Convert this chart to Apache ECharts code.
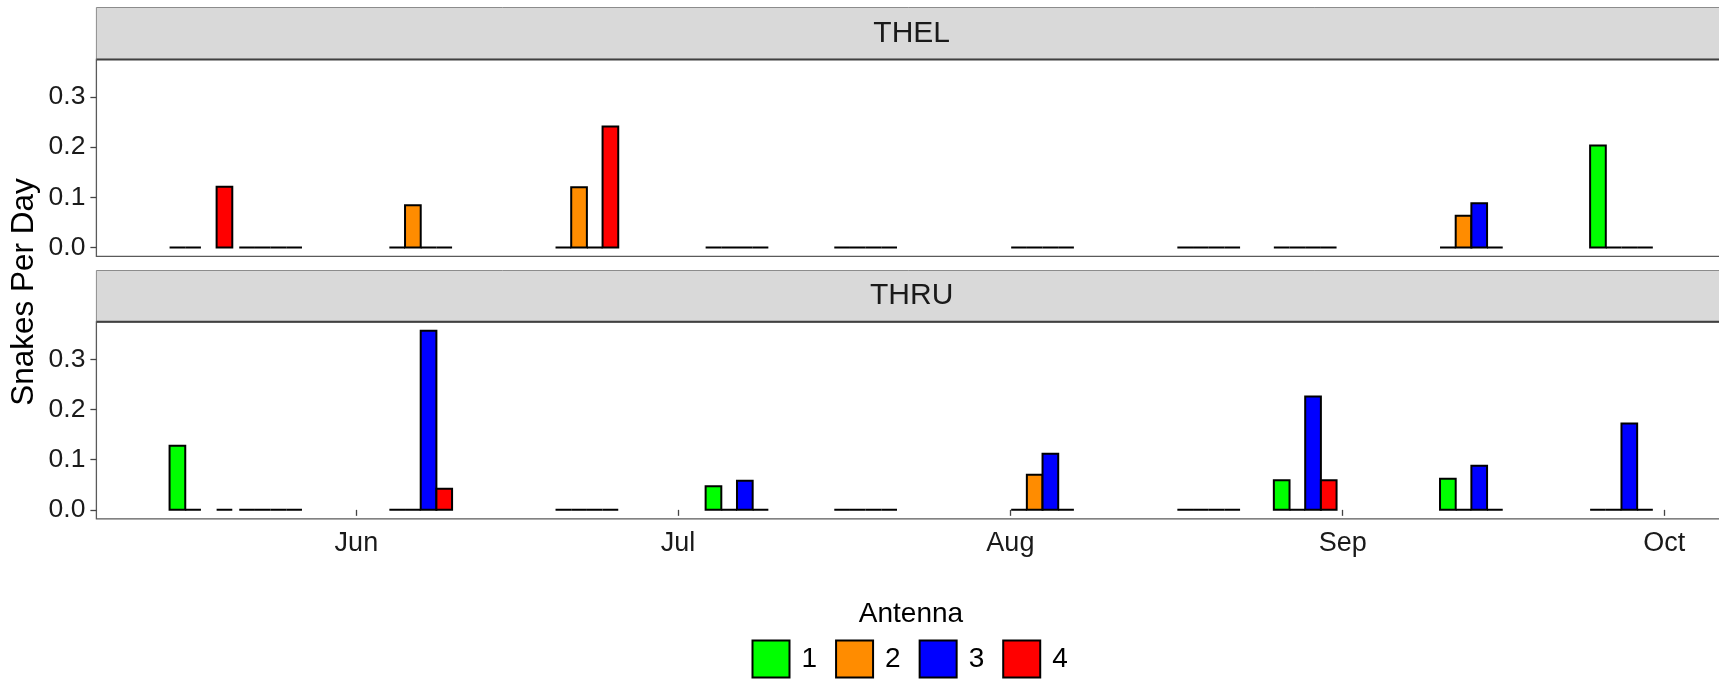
<!DOCTYPE html>
<html>
<head>
<meta charset="utf-8">
<script src="https://cdn.jsdelivr.net/npm/echarts@6/dist/echarts.min.js"></script>
<style>
  html, body { margin: 0; padding: 0; background: #ffffff; overflow: hidden; }
  #chart { width: 1719px; height: 680px; }
</style>
</head>
<body>
<div id="chart"></div>
<script>
// Midpoints of each sampling period
const sampleDates = [
  '2019-05-17 12:00', '2019-05-24 00:00', '2019-06-07 00:00', '2019-06-22 12:00',
  '2019-07-06 12:00', '2019-07-18 12:00', '2019-08-04 00:00', '2019-08-19 12:00',
  '2019-08-28 12:00', '2019-09-13 00:00', '2019-09-27 00:00'
];
const sites = ['THEL', 'THRU'];
const antennas = ['1', '2', '3', '4'];
const antennaColors = ['#00FF00', '#FF8C00', '#0000FF', '#FF0000'];

// Snakes per day by antenna; null = antenna not running that period
const thelA1 = [0, 0, 0, 0, 0, 0, 0, 0, 0, 0, 0.203];
const thelA2 = [0, 0, 0.084, 0.120, 0, 0, 0, 0, 0, 0.063, 0];
const thelA3 = [null, 0, 0, 0, 0, 0, 0, 0, 0, 0.088, 0];
const thelA4 = [0.121, 0, 0, 0.241, 0, 0, 0, 0, 0, 0, 0];

const thruA1 = [0.128, 0, 0, 0, 0.047, 0, 0, 0, 0.059, 0.062, 0];
const thruA2 = [0, 0, 0, 0, 0, 0, 0.070, 0, 0, 0, 0];
const thruA3 = [null, 0, 0.357, 0, 0.058, 0, 0.112, 0, 0.226, 0.088, 0.172];
const thruA4 = [0, 0, 0.042, 0, 0, 0, 0, 0, 0.059, 0, 0];

const siteValues = [
  [thelA1, thelA2, thelA3, thelA4],
  [thruA1, thruA2, thruA3, thruA4]
];

// Axis ticks
const yTicks = [0, 0.1, 0.2, 0.3];
const monthTicks = ['2019-06-01', '2019-07-01', '2019-08-01', '2019-09-01', '2019-10-01'];
const monthLabels = ['Jun', 'Jul', 'Aug', 'Sep', 'Oct'];
const xRange = ['2019-05-07 18:00', '2019-10-06 20:00'];
const yRange = [-0.01785, 0.37485];

const FONT = "'Liberation Sans', Arial, Helvetica, sans-serif";
const DAY = 24 * 3600 * 1000;
const toTime = s => echarts.time.parse(s).getTime();
const monthTickTimes = monthTicks.map(toTime);
const sampleTimes = sampleDates.map(toTime);

// Dodged columns: each period gets 90% of the closest spacing between periods,
// split evenly between the four antennas.
let resolution = Infinity;
for (let i = 1; i < sampleTimes.length; i++) {
  resolution = Math.min(resolution, sampleTimes[i] - sampleTimes[i - 1]);
}
const groupSpan = 0.9 * resolution;
const slotSpan = groupSpan / antennas.length;

const panelLeft = 96.4;
const panelWidth = 1630.5;
const panels = [
  { stripTop: 7.5, top: 59.4, height: 197 },
  { stripTop: 270.5, top: 321.8, height: 197 }
];

const chart = echarts.init(document.getElementById('chart'), null, { renderer: 'canvas' });

const grids = panels.map(p => ({
  left: panelLeft, top: p.top, width: panelWidth, height: p.height,
  show: true, borderColor: '#5a5a5a', borderWidth: 1.3, backgroundColor: '#ffffff',
  containLabel: false, outerBoundsMode: 'none'
}));

const xAxes = panels.map((p, i) => ({
  type: 'time', gridIndex: i,
  min: toTime(xRange[0]), max: toTime(xRange[1]),
  minInterval: 28 * DAY, maxInterval: 31 * DAY,
  axisLine: { show: false },
  splitLine: { show: false },
  axisTick: {
    show: i === 1, length: 6,
    lineStyle: { color: '#444', width: 1.3 }
  },
  axisLabel: {
    show: i === 1, margin: 11,
    showMinLabel: false, showMaxLabel: false,
    color: '#1a1a1a', fontSize: 27, fontFamily: FONT,
    formatter: v => {
      const k = monthTickTimes.indexOf(v);
      return k >= 0 ? monthLabels[k] : '';
    }
  }
}));

const yAxes = panels.map((p, i) => ({
  type: 'value', gridIndex: i,
  min: yRange[0], max: yRange[1],
  axisLine: { show: false },
  splitLine: { show: false },
  axisTick: {
    show: true, length: 6, customValues: yTicks,
    lineStyle: { color: '#444', width: 1.3 }
  },
  axisLabel: {
    show: true, customValues: yTicks, margin: 11,
    color: '#1a1a1a', fontSize: 26.5, fontFamily: FONT,
    formatter: v => v.toFixed(1)
  }
}));

const series = [];
sites.forEach((site, s) => {
  antennas.forEach((ant, a) => {
    const vals = siteValues[s][a];
    const data = [];
    sampleTimes.forEach((t, i) => {
      if (vals[i] !== null) data.push([t, vals[i]]);
    });
    series.push({
      type: 'custom', name: ant,
      xAxisIndex: s, yAxisIndex: s,
      encode: { x: 0, y: 1 },
      data: data,
      itemStyle: { color: antennaColors[a], borderColor: '#000000', borderWidth: 2 },
      silent: true,
      renderItem: (params, api) => {
        const t = api.value(0);
        const v = api.value(1);
        const x0 = t - groupSpan / 2 + a * slotSpan;
        const pTop = api.coord([x0, v]);
        const pBase = api.coord([x0 + slotSpan, 0]);
        return {
          type: 'rect',
          shape: {
            x: pTop[0], y: pTop[1],
            width: pBase[0] - pTop[0], height: pBase[1] - pTop[1]
          },
          style: { fill: antennaColors[a], stroke: '#000000', lineWidth: 2 }
        };
      }
    });
  });
});

const graphics = [];
panels.forEach((p, i) => {
  graphics.push({
    type: 'rect', z: 100,
    shape: { x: panelLeft, y: p.stripTop, width: 1760 - panelLeft, height: p.top - p.stripTop },
    style: { fill: '#D9D9D9', stroke: '#8c8c8c', lineWidth: 1 }
  });
  graphics.push({
    type: 'line', z: 101,
    shape: { x1: panelLeft, y1: p.top, x2: 1760, y2: p.top },
    style: { stroke: '#404040', lineWidth: 2 }
  });
  graphics.push({
    type: 'text', z: 102,
    x: panelLeft + panelWidth / 2, y: (p.stripTop + p.top) / 2,
    style: {
      text: sites[i], fill: '#1a1a1a', font: '30px ' + FONT,
      textAlign: 'center', textVerticalAlign: 'middle'
    }
  });
});
graphics.push({
  type: 'text', z: 102,
  x: 24, y: 292, rotation: Math.PI / 2,
  style: {
    text: 'Snakes Per Day', fill: '#000000', font: '31.5px ' + FONT,
    textAlign: 'center', textVerticalAlign: 'middle'
  }
});
graphics.push({
  type: 'text', z: 102,
  x: 911, y: 614,
  style: {
    text: 'Antenna', fill: '#000000', font: '28px ' + FONT,
    textAlign: 'center', textVerticalAlign: 'middle'
  }
});

chart.setOption({
  animation: false,
  backgroundColor: '#ffffff',
  grid: grids,
  xAxis: xAxes,
  yAxis: yAxes,
  legend: {
    data: antennas,
    left: 746.5, top: 634.5,
    orient: 'horizontal',
    icon: 'rect',
    itemWidth: 37, itemHeight: 37, itemGap: 18,
    selectedMode: false,
    itemStyle: { borderColor: '#000000', borderWidth: 2 },
    textStyle: { color: '#000000', fontSize: 28, fontFamily: FONT, padding: [0, 0, 0, 7] }
  },
  graphic: graphics,
  series: series
});
</script>
</body>
</html>
